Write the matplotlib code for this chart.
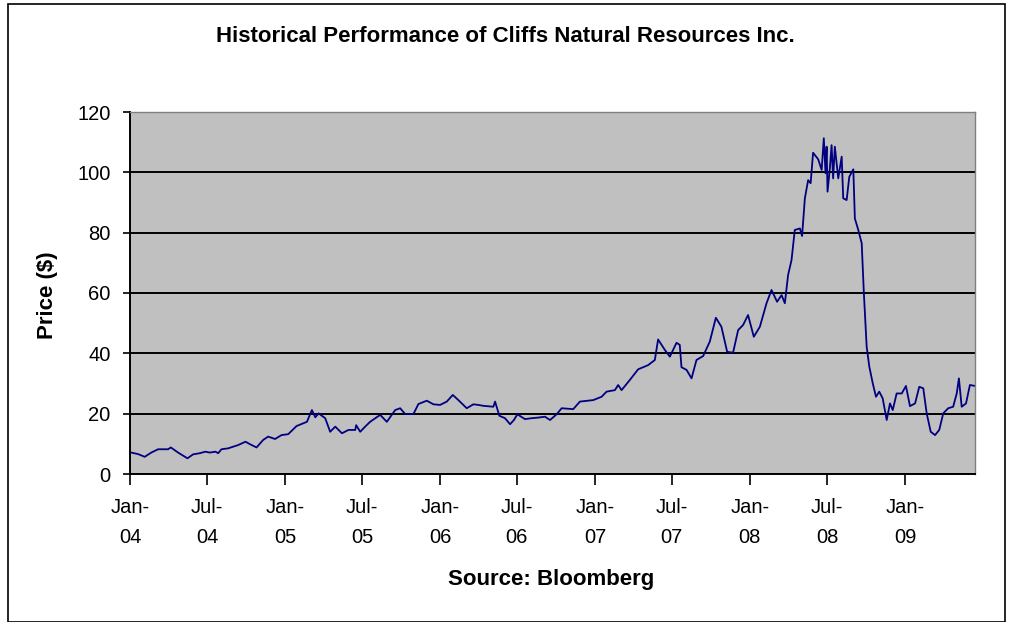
import numpy as np
import pandas as pd
import matplotlib
matplotlib.use("Agg")
import matplotlib.pyplot as plt
from matplotlib.patches import Rectangle

plt.rcParams['font.family'] = ['Liberation Sans', 'DejaVu Sans']

# time in decimal years, price in $
years = [2004.008, 2004.052, 2004.095, 2004.137, 2004.181, 2004.245, 2004.263, 2004.310,
         2004.370, 2004.406, 2004.450, 2004.486, 2004.514, 2004.550, 2004.568, 2004.589,
         2004.632, 2004.697, 2004.744, 2004.772, 2004.815, 2004.858, 2004.890, 2004.934,
         2004.976, 2005.019, 2005.073,
         2005.140, 2005.172, 2005.194, 2005.215, 2005.258, 2005.290, 2005.323,
         2005.366, 2005.408, 2005.452, 2005.458, 2005.484, 2005.516, 2005.548, 2005.613,
         2005.656, 2005.710, 2005.742, 2005.774, 2005.828, 2005.860, 2005.914, 2005.957,
         2006.000, 2006.043, 2006.082, 2006.118, 2006.172, 2006.215, 2006.247, 2006.279,
         2006.344, 2006.355, 2006.383, 2006.419, 2006.452, 2006.477, 2006.499, 2006.548,
         2006.592, 2006.634, 2006.677, 2006.710, 2006.753, 2006.785, 2006.860, 2006.903,
         2006.989, 2007.043, 2007.075,
         2007.129, 2007.150, 2007.172, 2007.226,
         2007.279, 2007.344, 2007.387, 2007.408, 2007.452, 2007.484, 2007.527, 2007.548,
         2007.559, 2007.592, 2007.624, 2007.656, 2007.699, 2007.742, 2007.781, 2007.817,
         2007.854, 2007.892, 2007.925, 2007.957, 2007.989, 2008.026, 2008.065, 2008.108,
         2008.140, 2008.176, 2008.205, 2008.226, 2008.247, 2008.269, 2008.290, 2008.323,
         2008.337, 2008.355, 2008.376, 2008.392, 2008.408, 2008.441, 2008.463, 2008.477,
         2008.488, 2008.495, 2008.501, 2008.516, 2008.527, 2008.537, 2008.548, 2008.570,
         2008.592, 2008.602, 2008.624, 2008.641, 2008.667, 2008.677, 2008.699, 2008.721,
         2008.735, 2008.753, 2008.770, 2008.792, 2008.813, 2008.834, 2008.856, 2008.882,
         2008.903, 2008.921, 2008.946, 2008.979, 2009.006, 2009.032, 2009.065, 2009.092,
         2009.118, 2009.140, 2009.166, 2009.194, 2009.221, 2009.247, 2009.279, 2009.311,
         2009.334, 2009.348, 2009.366, 2009.394, 2009.419, 2009.452]
price = [7.1, 6.6, 5.7, 7.1, 8.2, 8.2, 8.8, 7.1,
         5.2, 6.5, 6.9, 7.4, 7.1, 7.4, 6.9, 8.2,
         8.5, 9.6, 10.7, 9.9, 8.8, 11.3, 12.4, 11.6,
         12.9, 13.2, 15.9,
         17.3, 21.2, 18.8, 20.1, 18.5, 14.0, 15.7,
         13.5, 14.6, 14.6, 16.2, 14.0, 15.7, 17.3, 19.6,
         17.3, 21.2, 21.8, 19.9, 19.9, 23.2, 24.3, 23.1,
         22.9, 24.0, 26.2, 24.5, 21.8, 23.1, 22.9, 22.6,
         22.3, 24.0, 19.3, 18.5, 16.5, 17.9, 19.8, 18.2,
         18.5, 18.7, 19.0, 17.9, 19.8, 21.8, 21.5, 24.0,
         24.5, 25.6, 27.3,
         27.8, 29.5, 27.8, 31.2,
         34.7, 36.1, 37.8, 44.6, 41.1, 38.9, 43.5, 42.8,
         35.4, 34.5, 31.7, 37.8, 39.1, 43.9, 51.8, 48.8,
         40.5, 40.2, 47.7, 49.4, 52.7, 45.5, 48.8, 56.6,
         61.0, 57.1, 59.3, 56.6, 66.0, 70.9, 80.9, 81.4,
         78.9, 91.4, 97.4, 96.4, 106.5, 104.3, 100.8, 111.3,
         99.7, 108.5, 93.6, 101.3, 109.0, 98.0, 108.5, 98.0,
         105.2, 91.4, 90.8, 98.5, 101.0, 84.7, 80.9, 76.5,
         59.9, 42.2, 35.6, 30.1, 25.6, 27.3, 25.1, 17.9,
         23.4, 21.2, 26.7, 26.7, 29.2, 22.5, 23.4, 28.9,
         28.4, 20.1, 14.0, 12.9, 14.6, 20.1, 21.8, 22.3,
         26.7, 31.7, 22.3, 23.4, 29.5, 29.2]

tick_years = ['04', '04', '05', '05', '06', '06', '07', '07', '08', '08', '09']
tick_months = (['Jan', 'Jul'] * 6)[:len(tick_years)]


def to_date(y):
    yr = int(np.floor(y))
    start = pd.Timestamp(year=yr, month=1, day=1)
    end = pd.Timestamp(year=yr + 1, month=1, day=1)
    return start + (end - start) * (y - yr)


dates = [to_date(y) for y in years]
tick_dates = [pd.Timestamp(year=2000 + int(y), month=1 if m == 'Jan' else 7, day=1)
              for m, y in zip(tick_months, tick_years)]
tick_labels = [m + '-\n' + y for m, y in zip(tick_months, tick_years)]

fig = plt.figure(figsize=(10.1, 6.22), dpi=100)
ax = fig.add_axes([130 / 1010, 1 - 474 / 622, 845 / 1010, 362 / 622])
fig.patches.append(Rectangle((8 / 1010, 0), 997 / 1010, 1 - 4 / 622, transform=fig.transFigure,
                             fill=False, edgecolor='black', linewidth=1.2))

ax.set_facecolor('#c0c0c0')
ax.plot(dates, price, color='#000080', linewidth=1.3)

ax.set_ylim(0, 120)
ax.set_yticks(range(0, 121, 20))
ax.set_xlim(to_date(2004.0), to_date(2009.452))
ax.set_xticks(tick_dates)
ax.set_xticklabels(tick_labels, linespacing=1.75)
ax.grid(axis='y', color='black', linewidth=1.4)
ax.set_axisbelow(True)

ax.tick_params(axis='y', length=5, width=1.2, labelsize=14.5, pad=9, color='black')
ax.tick_params(axis='x', length=8, width=1.2, labelsize=14.5, pad=9, color='black')
for s in ['left', 'bottom']:
    ax.spines[s].set_linewidth(1.4)
    ax.spines[s].set_color('black')
for s in ['top', 'right']:
    ax.spines[s].set_color('#808080')
    ax.spines[s].set_linewidth(1.0)

fig.text(48 / 1010, 1 - 295 / 622, 'Price ($)', rotation=90, ha='center', va='center',
         fontsize=16, fontweight='bold')
fig.text(0.5, 1 - 37 / 622, 'Historical Performance of Cliffs Natural Resources Inc.',
         ha='center', va='center', fontsize=16, fontweight='bold')
fig.text(551 / 1010, 1 - 580 / 622, 'Source: Bloomberg', ha='center', va='center',
         fontsize=16, fontweight='bold')

fig.savefig('out.png', dpi=100)
